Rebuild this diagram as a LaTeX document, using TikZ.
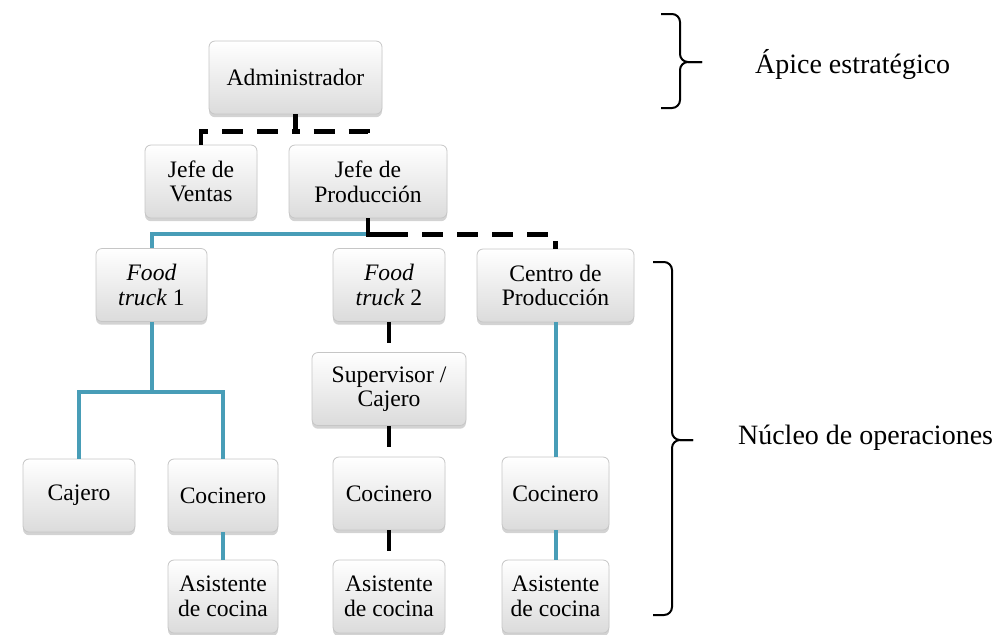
\documentclass[tikz,border=0pt]{standalone}
\usepackage{fontspec}
\setmainfont{LiberationSerif}[Extension=.ttf, UprightFont=*-Regular, ItalicFont=*-Italic, BoldFont=*-Bold, BoldItalicFont=*-BoldItalic]
\usetikzlibrary{shadows}
\definecolor{linkblue}{RGB}{72,157,183}
\begin{document}
\begin{tikzpicture}[
    x=0.5pt, y=-0.5pt,
    orgbox/.style={rectangle, draw=gray!45, top color=white, bottom color=gray!28, rounded corners=3pt, minimum height=36.5pt, inner sep=1pt, align=center, font=\fontsize{11.8}{12.3}\selectfont, drop shadow={shadow xshift=0pt, shadow yshift=-1.6pt, opacity=0.35}},
    blueline/.style={linkblue, line width=2pt},
    dashline/.style={black, line width=2.4pt, dash pattern=on 10.5pt off 7pt},
    bracebar/.style={line width=1pt, rounded corners=4pt},
    sidetext/.style={anchor=west, font=\fontsize{14}{16}\selectfont},
]
\useasboundingbox (0,0) rectangle (1005,634);

\node[orgbox, minimum width=86.5pt] (admin)  at (295.5,77.5) {Administrador};
\node[orgbox, minimum width=56pt]   (ventas) at (201,181.5)  {Jefe de\\Ventas};
\node[orgbox, minimum width=79pt]   (prod)   at (368,181.5)  {Jefe de\\Producción};

\node[orgbox, minimum width=55.5pt] (ft1)    at (151.5,285)  {\textit{Food}\\\textit{truck} 1};
\node[orgbox, minimum width=56pt]   (ft2)    at (389,285)    {\textit{Food}\\\textit{truck} 2};
\node[orgbox, minimum width=78.5pt] (centro) at (555.5,285.5) {Centro de\\Producción};

\node[orgbox, minimum width=77pt]   (super)  at (389,389)    {Supervisor /\\Cajero};

\node[orgbox, minimum width=56pt]   (cajero) at (79,495.5)   {Cajero};
\node[orgbox, minimum width=55pt]   (coc1)   at (223,495.5)  {Cocinero};
\node[orgbox, minimum width=56pt]   (coc2)   at (389,493.5)  {Cocinero};
\node[orgbox, minimum width=53.5pt] (coc3)   at (555.5,493.5) {Cocinero};

\node[orgbox, minimum width=55pt]   (asis1)  at (223,596.5)  {Asistente\\de cocina};
\node[orgbox, minimum width=56pt]   (asis2)  at (389,596.5)  {Asistente\\de cocina};
\node[orgbox, minimum width=53.5pt] (asis3)  at (555.5,596.5) {Asistente\\de cocina};

\draw[dashline] (admin.south) -- ++(0,17) -| (ventas.north);
\draw[dashline] (admin.south) -- ++(0,17) -| (prod.north);

\draw[blueline] (prod.south) -- ++(0,16) -| (ft1.north);
\draw[dashline] (prod.south) -- ++(0,16) -| (centro.north);
\draw[dashline] (prod.south) ++(0,16) -| (ft2.north);

\draw[blueline] (ft1.south) -- ++(0,70) -| (cajero.north);
\draw[blueline] (ft1.south) -- ++(0,70) -| (coc1.north);
\draw[blueline] (coc1) -- (asis1);

\draw[dashline] (ft2) -- (super);
\draw[dashline] (super) -- (coc2);
\draw[dashline] (coc2) -- (asis2);

\draw[blueline] (centro) -- (coc3);
\draw[blueline] (coc3) -- (asis3);

\node[sidetext] (apice)  at (748,64)  {Ápice estratégico};
\node[sidetext] (nucleo) at (731,438) {Núcleo de operaciones};

\coordinate (apextip) at (702,62);
\coordinate (coretip) at (693,440);
\draw[bracebar] (661,14) -| (680,62) -- (apextip);
\draw[bracebar] (661,108) -| (680,62) -- (apextip);
\draw[bracebar] (653,262) -| (672,440) -- (coretip);
\draw[bracebar] (653,615) -| (672,440) -- (coretip);
\end{tikzpicture}
\end{document}
